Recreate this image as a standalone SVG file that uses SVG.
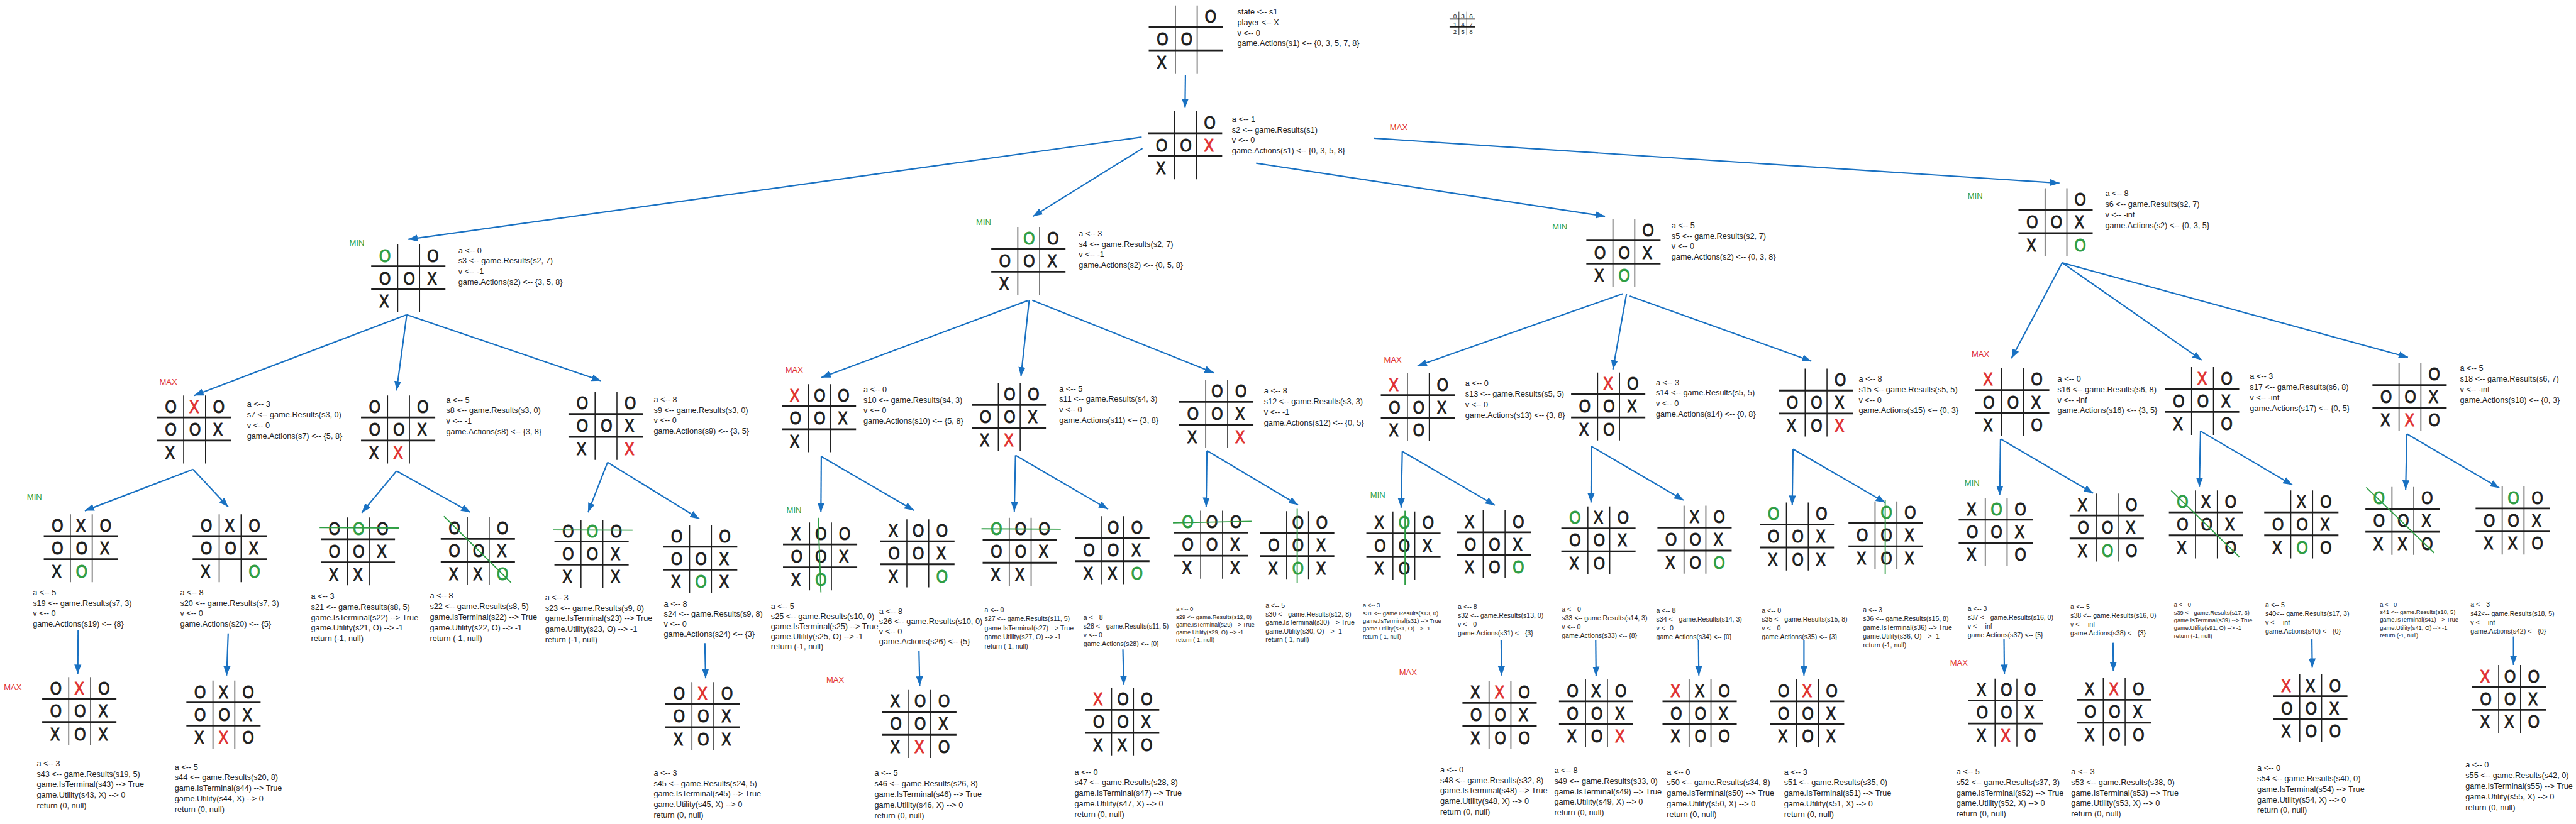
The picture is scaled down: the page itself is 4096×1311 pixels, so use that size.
<svg xmlns="http://www.w3.org/2000/svg" width="4096" height="1311" viewBox="0 0 4096 1311">
<defs>
<style>
.k{font-family:"Liberation Sans",Arial,sans-serif;font-size:46px;fill:#1e1e1e;stroke:#1e1e1e;stroke-width:1.8px;stroke-linejoin:round}
.k .r{fill:#e03131;stroke:#e03131}
.k .g{fill:#2f9e44;stroke:#2f9e44}
.t{font-family:"Liberation Sans",Arial,sans-serif;font-size:20.5px;fill:#1e1e1e}
.t2{font-size:17px}
.t3{font-size:15px}
.lx{font-family:"Liberation Sans",Arial,sans-serif;font-size:21px;fill:#e03131}
.ln{font-family:"Liberation Sans",Arial,sans-serif;font-size:21px;fill:#2f9e44}
.st{stroke:#2f9e44;stroke-width:3;fill:none}
</style>
<marker id="ah" markerWidth="26" markerHeight="20" refX="24" refY="10" orient="auto" markerUnits="userSpaceOnUse"><path d="M0 1 L24 10 L0 19 Z" fill="#1971c2"/></marker>
<g id="G"><path d="M0 56H190M0 115H190" stroke="#1e1e1e" stroke-width="4.5"/><path d="M68 0V174M124 0V174" stroke="#1e1e1e" stroke-width="2.5"/></g>
</defs>
<g transform="scale(0.62127)">
<rect width="6593" height="2111" fill="#ffffff"/>

<g id="connectors" fill="none" stroke="#1971c2" stroke-width="3.5" marker-end="url(#ah)">
<path d="M3034 193L3033 276"/>
<path d="M2922 351L1045 613"/>
<path d="M2924 380L2644 554"/>
<path d="M3215 418L4108 554"/>
<path d="M3516 354L5271 469"/>
<path d="M1041 806L497 1013"/>
<path d="M1041 806L1015 1000"/>
<path d="M1041 806L1538 975"/>
<path d="M2630 770L2102 967"/>
<path d="M2634 769L2613 964"/>
<path d="M2642 769L3107 955"/>
<path d="M4154 752L3628 937"/>
<path d="M4163 752L4128 946"/>
<path d="M4171 758L4636 925"/>
<path d="M5278 673L5148 918"/>
<path d="M5278 673L5635 922"/>
<path d="M5278 673L6163 915"/>
<path d="M494 1202L217 1308"/>
<path d="M494 1202L584 1298"/>
<path d="M1015 1206L926 1313"/>
<path d="M1015 1206L1204 1312"/>
<path d="M1555 1184L1505 1312"/>
<path d="M1555 1184L1790 1329"/>
<path d="M2102 1169L2101 1312"/>
<path d="M2102 1169L2339 1307"/>
<path d="M2599 1166L2596 1310"/>
<path d="M2599 1166L2836 1304"/>
<path d="M3089 1154L3087 1298"/>
<path d="M3089 1154L3322 1293"/>
<path d="M3589 1156L3586 1300"/>
<path d="M3589 1156L3826 1294"/>
<path d="M4073 1143L4072 1287"/>
<path d="M4073 1143L4309 1281"/>
<path d="M4589 1150L4587 1293"/>
<path d="M4589 1150L4825 1287"/>
<path d="M5120 1124L5118 1268"/>
<path d="M5120 1124L5357 1263"/>
<path d="M5632 1104L5629 1247"/>
<path d="M5632 1104L5867 1242"/>
<path d="M6160 1111L6157 1254"/>
<path d="M6160 1111L6397 1250"/>
<path d="M200 1614L199 1726"/>
<path d="M584 1622L580 1730"/>
<path d="M1804 1647L1806 1737"/>
<path d="M2352 1666L2354 1756"/>
<path d="M2874 1663L2876 1754"/>
<path d="M3842 1640L3843 1730"/>
<path d="M4084 1640L4085 1731"/>
<path d="M4347 1640L4348 1730"/>
<path d="M4617 1640L4617 1730"/>
<path d="M5129 1636L5130 1726"/>
<path d="M5408 1646L5409 1719"/>
<path d="M5917 1636L5918 1710"/>
<path d="M6433 1630L6433 1703"/>
</g>

<g id="levels">
<text class="lx" x="3557" y="333">MAX</text>
<text class="ln" x="894" y="629">MIN</text>
<text class="ln" x="2498" y="577">MIN</text>
<text class="ln" x="3973" y="587">MIN</text>
<text class="ln" x="5036" y="508">MIN</text>
<text class="lx" x="408" y="985">MAX</text>
<text class="lx" x="2010" y="955">MAX</text>
<text class="lx" x="3542" y="929">MAX</text>
<text class="lx" x="5046" y="914">MAX</text>
<text class="ln" x="69" y="1280">MIN</text>
<text class="ln" x="2013" y="1314">MIN</text>
<text class="ln" x="3507" y="1275">MIN</text>
<text class="ln" x="5028" y="1244">MIN</text>
<text class="lx" x="10" y="1767">MAX</text>
<text class="lx" x="2115" y="1748">MAX</text>
<text class="lx" x="3581" y="1729">MAX</text>
<text class="lx" x="4991" y="1705">MAX</text>
</g>

<g id="legend"><path d="M3710 49H3776M3710 69H3776" stroke="#1e1e1e" stroke-width="3"/><path d="M3734 30V90M3754 30V90" stroke="#1e1e1e" stroke-width="1.5"/><text class="t" style="font-size:16px" x="3719.5 3739.5 3760.5" y="47">036</text><text class="t" style="font-size:16px" x="3719.5 3739.5 3760.5" y="67">147</text><text class="t" style="font-size:16px" x="3719.5 3739.5 3760.5" y="87">258</text></g>

<g id="s1"><g transform="translate(2940 14)"><use href="#G"/><g transform="scale(.82 1)"><text class="k" x="24.9 100.5 174.9" y="44.5">&#160;&#160;O</text><text class="k" x="24.9 100.5 174.9" y="102.5">OO</text><text class="k" x="24.9 100.5 174.9" y="161.5">X</text></g></g><text class="t" y="37"><tspan x="3167">state &lt;-- s1</tspan><tspan x="3167" dy="27">player &lt;-- X</tspan><tspan x="3167" dy="27">v &lt;-- 0</tspan><tspan x="3167" dy="27">game.Actions(s1)  &lt;-- {0, 3, 5, 7, 8}</tspan></text></g>

<g id="s2"><g transform="translate(2938 285)"><use href="#G"/><g transform="scale(.82 1)"><text class="k" x="24.9 100.5 174.9" y="44.5">&#160;&#160;O</text><text class="k" x="24.9 100.5 174.9" y="102.5">OO<tspan class="r">X</tspan></text><text class="k" x="24.9 100.5 174.9" y="161.5">X</text></g></g><text class="t" y="312"><tspan x="3153">a &lt;-- 1</tspan><tspan x="3153" dy="27">s2 &lt;-- game.Results(s1)</tspan><tspan x="3153" dy="27">v &lt;-- 0</tspan><tspan x="3153" dy="27">game.Actions(s1)  &lt;-- {0, 3, 5, 8}</tspan></text></g>

<g id="s3"><g transform="translate(950 626)"><use href="#G"/><g transform="scale(.82 1)"><text class="k" x="24.9 100.5 174.9" y="44.5"><tspan class="g">O</tspan>&#160;O</text><text class="k" x="24.9 100.5 174.9" y="102.5">OOX</text><text class="k" x="24.9 100.5 174.9" y="161.5">X</text></g></g><text class="t" y="648"><tspan x="1173">a &lt;-- 0</tspan><tspan x="1173" dy="27">s3 &lt;-- game.Results(s2, 7)</tspan><tspan x="1173" dy="27">v &lt;-- -1</tspan><tspan x="1173" dy="27">game.Actions(s2)  &lt;-- {3, 5, 8}</tspan></text></g>

<g id="s4"><g transform="translate(2537 581)"><use href="#G"/><g transform="scale(.82 1)"><text class="k" x="24.9 100.5 174.9" y="44.5">&#160;<tspan class="g">O</tspan>O</text><text class="k" x="24.9 100.5 174.9" y="102.5">OOX</text><text class="k" x="24.9 100.5 174.9" y="161.5">X</text></g></g><text class="t" y="605"><tspan x="2761">a &lt;-- 3</tspan><tspan x="2761" dy="27">s4 &lt;-- game.Results(s2, 7)</tspan><tspan x="2761" dy="27">v &lt;-- -1</tspan><tspan x="2761" dy="27">game.Actions(s2)  &lt;-- {0, 5, 8}</tspan></text></g>

<g id="s5"><g transform="translate(4060 560)"><use href="#G"/><g transform="scale(.82 1)"><text class="k" x="24.9 100.5 174.9" y="44.5">&#160;&#160;O</text><text class="k" x="24.9 100.5 174.9" y="102.5">OOX</text><text class="k" x="24.9 100.5 174.9" y="161.5">X<tspan class="g">O</tspan></text></g></g><text class="t" y="584"><tspan x="4278">a &lt;-- 5</tspan><tspan x="4278" dy="27">s5 &lt;-- game.Results(s2, 7)</tspan><tspan x="4278" dy="27">v &lt;-- 0</tspan><tspan x="4278" dy="27">game.Actions(s2)  &lt;-- {0, 3, 8}</tspan></text></g>

<g id="s6"><g transform="translate(5166 482)"><use href="#G"/><g transform="scale(.82 1)"><text class="k" x="24.9 100.5 174.9" y="44.5">&#160;&#160;O</text><text class="k" x="24.9 100.5 174.9" y="102.5">OOX</text><text class="k" x="24.9 100.5 174.9" y="161.5">X&#160;<tspan class="g">O</tspan></text></g></g><text class="t" y="503"><tspan x="5388">a &lt;-- 8</tspan><tspan x="5388" dy="27">s6 &lt;-- game.Results(s2, 7)</tspan><tspan x="5388" dy="27">v &lt;-- -inf</tspan><tspan x="5388" dy="27">game.Actions(s2)  &lt;-- {0, 3, 5}</tspan></text></g>

<g id="s7"><g transform="translate(402 1013)"><use href="#G"/><g transform="scale(.82 1)"><text class="k" x="24.9 100.5 174.9" y="44.5">O<tspan class="r">X</tspan>O</text><text class="k" x="24.9 100.5 174.9" y="102.5">OOX</text><text class="k" x="24.9 100.5 174.9" y="161.5">X</text></g></g><text class="t" y="1042"><tspan x="632">a &lt;-- 3</tspan><tspan x="632" dy="27">s7 &lt;-- game.Results(s3, 0)</tspan><tspan x="632" dy="27">v &lt;-- 0</tspan><tspan x="632" dy="27">game.Actions(s7)  &lt;-- {5, 8}</tspan></text></g>

<g id="s8"><g transform="translate(924 1013)"><use href="#G"/><g transform="scale(.82 1)"><text class="k" x="24.9 100.5 174.9" y="44.5">O&#160;O</text><text class="k" x="24.9 100.5 174.9" y="102.5">OOX</text><text class="k" x="24.9 100.5 174.9" y="161.5">X<tspan class="r">X</tspan></text></g></g><text class="t" y="1031"><tspan x="1142">a &lt;-- 5</tspan><tspan x="1142" dy="27">s8 &lt;-- game.Results(s3, 0)</tspan><tspan x="1142" dy="27">v &lt;-- -1</tspan><tspan x="1142" dy="27">game.Actions(s8)  &lt;-- {3, 8}</tspan></text></g>

<g id="s9"><g transform="translate(1455 1004)"><use href="#G"/><g transform="scale(.82 1)"><text class="k" x="24.9 100.5 174.9" y="44.5">O&#160;O</text><text class="k" x="24.9 100.5 174.9" y="102.5">OOX</text><text class="k" x="24.9 100.5 174.9" y="161.5">X&#160;<tspan class="r">X</tspan></text></g></g><text class="t" y="1030"><tspan x="1673">a &lt;-- 8</tspan><tspan x="1673" dy="27">s9 &lt;-- game.Results(s3, 0)</tspan><tspan x="1673" dy="27">v &lt;-- 0</tspan><tspan x="1673" dy="27">game.Actions(s9)  &lt;-- {3, 5}</tspan></text></g>

<g id="s10"><g transform="translate(2001 984)"><use href="#G"/><g transform="scale(.82 1)"><text class="k" x="24.9 100.5 174.9" y="44.5"><tspan class="r">X</tspan>OO</text><text class="k" x="24.9 100.5 174.9" y="102.5">OOX</text><text class="k" x="24.9 100.5 174.9" y="161.5">X</text></g></g><text class="t" y="1004"><tspan x="2210">a &lt;-- 0</tspan><tspan x="2210" dy="27">s10 &lt;-- game.Results(s4, 3)</tspan><tspan x="2210" dy="27">v &lt;-- 0</tspan><tspan x="2210" dy="27">game.Actions(s10)  &lt;-- {5, 8}</tspan></text></g>

<g id="s11"><g transform="translate(2487 981)"><use href="#G"/><g transform="scale(.82 1)"><text class="k" x="24.9 100.5 174.9" y="44.5">&#160;OO</text><text class="k" x="24.9 100.5 174.9" y="102.5">OOX</text><text class="k" x="24.9 100.5 174.9" y="161.5">X<tspan class="r">X</tspan></text></g></g><text class="t" y="1002"><tspan x="2711">a &lt;-- 5</tspan><tspan x="2711" dy="27">s11 &lt;-- game.Results(s4, 3)</tspan><tspan x="2711" dy="27">v &lt;-- 0</tspan><tspan x="2711" dy="27">game.Actions(s11)  &lt;-- {3, 8}</tspan></text></g>

<g id="s12"><g transform="translate(3018 973)"><use href="#G"/><g transform="scale(.82 1)"><text class="k" x="24.9 100.5 174.9" y="44.5">&#160;OO</text><text class="k" x="24.9 100.5 174.9" y="102.5">OOX</text><text class="k" x="24.9 100.5 174.9" y="161.5">X&#160;<tspan class="r">X</tspan></text></g></g><text class="t" y="1008"><tspan x="3235">a &lt;-- 8</tspan><tspan x="3235" dy="27">s12 &lt;-- game.Results(s3, 3)</tspan><tspan x="3235" dy="27">v &lt;-- -1</tspan><tspan x="3235" dy="27">game.Actions(s12)  &lt;-- {0, 5}</tspan></text></g>

<g id="s13"><g transform="translate(3534 956)"><use href="#G"/><g transform="scale(.82 1)"><text class="k" x="24.9 100.5 174.9" y="44.5"><tspan class="r">X</tspan>&#160;O</text><text class="k" x="24.9 100.5 174.9" y="102.5">OOX</text><text class="k" x="24.9 100.5 174.9" y="161.5">XO</text></g></g><text class="t" y="989"><tspan x="3750">a &lt;-- 0</tspan><tspan x="3750" dy="27">s13 &lt;-- game.Results(s5, 5)</tspan><tspan x="3750" dy="27">v &lt;-- 0</tspan><tspan x="3750" dy="27">game.Actions(s13)  &lt;-- {3, 8}</tspan></text></g>

<g id="s14"><g transform="translate(4021 954)"><use href="#G"/><g transform="scale(.82 1)"><text class="k" x="24.9 100.5 174.9" y="44.5">&#160;<tspan class="r">X</tspan>O</text><text class="k" x="24.9 100.5 174.9" y="102.5">OOX</text><text class="k" x="24.9 100.5 174.9" y="161.5">XO</text></g></g><text class="t" y="986"><tspan x="4238">a &lt;-- 3</tspan><tspan x="4238" dy="27">s14 &lt;-- game.Results(s5, 5)</tspan><tspan x="4238" dy="27">v &lt;-- 0</tspan><tspan x="4238" dy="27">game.Actions(s14)  &lt;-- {0, 8}</tspan></text></g>

<g id="s15"><g transform="translate(4552 944)"><use href="#G"/><g transform="scale(.82 1)"><text class="k" x="24.9 100.5 174.9" y="44.5">&#160;&#160;O</text><text class="k" x="24.9 100.5 174.9" y="102.5">OOX</text><text class="k" x="24.9 100.5 174.9" y="161.5">XO<tspan class="r">X</tspan></text></g></g><text class="t" y="977"><tspan x="4757">a &lt;-- 8</tspan><tspan x="4757" dy="27">s15 &lt;-- game.Results(s5, 5)</tspan><tspan x="4757" dy="27">v &lt;-- 0</tspan><tspan x="4757" dy="27">game.Actions(s15)  &lt;-- {0, 3}</tspan></text></g>

<g id="s16"><g transform="translate(5055 943)"><use href="#G"/><g transform="scale(.82 1)"><text class="k" x="24.9 100.5 174.9" y="44.5"><tspan class="r">X</tspan>&#160;O</text><text class="k" x="24.9 100.5 174.9" y="102.5">OOX</text><text class="k" x="24.9 100.5 174.9" y="161.5">X&#160;O</text></g></g><text class="t" y="977"><tspan x="5266">a &lt;-- 0</tspan><tspan x="5266" dy="27">s16 &lt;-- game.Results(s6, 8)</tspan><tspan x="5266" dy="27">v &lt;-- -inf</tspan><tspan x="5266" dy="27">game.Actions(s16)  &lt;-- {3, 5}</tspan></text></g>

<g id="s17"><g transform="translate(5541 940)"><use href="#G"/><g transform="scale(.82 1)"><text class="k" x="24.9 100.5 174.9" y="44.5">&#160;<tspan class="r">X</tspan>O</text><text class="k" x="24.9 100.5 174.9" y="102.5">OOX</text><text class="k" x="24.9 100.5 174.9" y="161.5">X&#160;O</text></g></g><text class="t" y="971"><tspan x="5758">a &lt;-- 3</tspan><tspan x="5758" dy="27">s17 &lt;-- game.Results(s6, 8)</tspan><tspan x="5758" dy="27">v &lt;-- -inf</tspan><tspan x="5758" dy="27">game.Actions(s17)  &lt;-- {0, 5}</tspan></text></g>

<g id="s18"><g transform="translate(6072 930)"><use href="#G"/><g transform="scale(.82 1)"><text class="k" x="24.9 100.5 174.9" y="44.5">&#160;&#160;O</text><text class="k" x="24.9 100.5 174.9" y="102.5">OOX</text><text class="k" x="24.9 100.5 174.9" y="161.5">X<tspan class="r">X</tspan>O</text></g></g><text class="t" y="950"><tspan x="6296">a &lt;-- 5</tspan><tspan x="6296" dy="27">s18 &lt;-- game.Results(s6, 7)</tspan><tspan x="6296" dy="27">v &lt;-- -inf</tspan><tspan x="6296" dy="27">game.Actions(s18)  &lt;-- {0, 3}</tspan></text></g>

<g id="s19"><g transform="translate(112 1317)"><use href="#G"/><g transform="scale(.82 1)"><text class="k" x="24.9 100.5 174.9" y="44.5">OXO</text><text class="k" x="24.9 100.5 174.9" y="102.5">OOX</text><text class="k" x="24.9 100.5 174.9" y="161.5">X<tspan class="g">O</tspan></text></g></g><text class="t" y="1524"><tspan x="84">a &lt;-- 5</tspan><tspan x="84" dy="27">s19 &lt;-- game.Results(s7, 3)</tspan><tspan x="84" dy="27">v &lt;-- 0</tspan><tspan x="84" dy="27">game.Actions(s19)  &lt;-- {8}</tspan></text></g>

<g id="s20"><g transform="translate(493 1317)"><use href="#G"/><g transform="scale(.82 1)"><text class="k" x="24.9 100.5 174.9" y="44.5">OXO</text><text class="k" x="24.9 100.5 174.9" y="102.5">OOX</text><text class="k" x="24.9 100.5 174.9" y="161.5">X&#160;<tspan class="g">O</tspan></text></g></g><text class="t" y="1524"><tspan x="461">a &lt;-- 8</tspan><tspan x="461" dy="27">s20 &lt;-- game.Results(s7, 3)</tspan><tspan x="461" dy="27">v &lt;-- 0</tspan><tspan x="461" dy="27">game.Actions(s20)  &lt;-- {5}</tspan></text></g>

<g id="s21"><g transform="translate(821 1325)"><use href="#G"/><g transform="scale(.82 1)"><text class="k" x="24.9 100.5 174.9" y="44.5">O<tspan class="g">O</tspan>O</text><text class="k" x="24.9 100.5 174.9" y="102.5">OOX</text><text class="k" x="24.9 100.5 174.9" y="161.5">XX</text></g><path class="st" d="M-3 26L200 27"/></g><text class="t" y="1534"><tspan x="796">a &lt;-- 3</tspan><tspan x="796" dy="27">s21 &lt;-- game.Results(s8, 5)</tspan><tspan x="796" dy="27">game.IsTerminal(s22) --&gt; True</tspan><tspan x="796" dy="27">game.Utility(s21, O) --&gt; -1</tspan><tspan x="796" dy="27">return (-1, null)</tspan></text></g>

<g id="s22"><g transform="translate(1128 1324)"><use href="#G"/><g transform="scale(.82 1)"><text class="k" x="24.9 100.5 174.9" y="44.5">O&#160;O</text><text class="k" x="24.9 100.5 174.9" y="102.5">OOX</text><text class="k" x="24.9 100.5 174.9" y="161.5">XX<tspan class="g">O</tspan></text></g><path class="st" d="M8 -2L180 168"/></g><text class="t" y="1533"><tspan x="1100">a &lt;-- 8</tspan><tspan x="1100" dy="27">s22 &lt;-- game.Results(s8, 5)</tspan><tspan x="1100" dy="27">game.IsTerminal(s22) --&gt; True</tspan><tspan x="1100" dy="27">game.Utility(s22, O) --&gt; -1</tspan><tspan x="1100" dy="27">return (-1, null)</tspan></text></g>

<g id="s23"><g transform="translate(1419 1331)"><use href="#G"/><g transform="scale(.82 1)"><text class="k" x="24.9 100.5 174.9" y="44.5">O<tspan class="g">O</tspan>O</text><text class="k" x="24.9 100.5 174.9" y="102.5">OOX</text><text class="k" x="24.9 100.5 174.9" y="161.5">X&#160;X</text></g><path class="st" d="M-3 26L200 27"/></g><text class="t" y="1537"><tspan x="1395">a &lt;-- 3</tspan><tspan x="1395" dy="27">s23 &lt;-- game.Results(s9, 8)</tspan><tspan x="1395" dy="27">game.IsTerminal(s23) --&gt; True</tspan><tspan x="1395" dy="27">game.Utility(s23, O) --&gt; -1</tspan><tspan x="1395" dy="27">return (-1, null)</tspan></text></g>

<g id="s24"><g transform="translate(1697 1344)"><use href="#G"/><g transform="scale(.82 1)"><text class="k" x="24.9 100.5 174.9" y="44.5">O&#160;O</text><text class="k" x="24.9 100.5 174.9" y="102.5">OOX</text><text class="k" x="24.9 100.5 174.9" y="161.5">X<tspan class="g">O</tspan>X</text></g></g><text class="t" y="1554"><tspan x="1699">a &lt;-- 8</tspan><tspan x="1699" dy="25.6">s24 &lt;-- game.Results(s9, 8)</tspan><tspan x="1699" dy="25.6">v &lt;-- 0</tspan><tspan x="1699" dy="25.6">game.Actions(s24) &lt;-- {3}</tspan></text></g>

<g id="s25"><g transform="translate(2004 1338)"><use href="#G"/><g transform="scale(.82 1)"><text class="k" x="24.9 100.5 174.9" y="44.5">XOO</text><text class="k" x="24.9 100.5 174.9" y="102.5">OOX</text><text class="k" x="24.9 100.5 174.9" y="161.5">X<tspan class="g">O</tspan></text></g><path class="st" d="M90 -12L97 179"/></g><text class="t" y="1559"><tspan x="1973">a &lt;-- 5</tspan><tspan x="1973" dy="26">s25 &lt;-- game.Results(s10, 0)</tspan><tspan x="1973" dy="26">game.IsTerminal(s25) --&gt; True</tspan><tspan x="1973" dy="26">game.Utility(s25, O) --&gt; -1</tspan><tspan x="1973" dy="26">return (-1, null)</tspan></text></g>

<g id="s26"><g transform="translate(2253 1330)"><use href="#G"/><g transform="scale(.82 1)"><text class="k" x="24.9 100.5 174.9" y="44.5">XOO</text><text class="k" x="24.9 100.5 174.9" y="102.5">OOX</text><text class="k" x="24.9 100.5 174.9" y="161.5">X&#160;<tspan class="g">O</tspan></text></g></g><text class="t" y="1573"><tspan x="2250">a &lt;-- 8</tspan><tspan x="2250" dy="25.6">s26 &lt;-- game.Results(s10, 0)</tspan><tspan x="2250" dy="25.6">v &lt;-- 0</tspan><tspan x="2250" dy="25.6">game.Actions(s26) &lt;-- {5}</tspan></text></g>

<g id="s27"><g transform="translate(2515 1326)"><use href="#G"/><g transform="scale(.82 1)"><text class="k" x="24.9 100.5 174.9" y="44.5"><tspan class="g">O</tspan>OO</text><text class="k" x="24.9 100.5 174.9" y="102.5">OOX</text><text class="k" x="24.9 100.5 174.9" y="161.5">XX</text></g><path class="st" d="M-3 28L200 29"/></g><text class="t t2" y="1567"><tspan x="2520">a &lt;-- 0</tspan><tspan x="2520" dy="23.5">s27 &lt;-- game.Results(s11, 5)</tspan><tspan x="2520" dy="23.5">game.IsTerminal(s27) --&gt; True</tspan><tspan x="2520" dy="23.5">game.Utility(s27, O) --&gt; -1</tspan><tspan x="2520" dy="23.5">return (-1, null)</tspan></text></g>

<g id="s28"><g transform="translate(2752 1322)"><use href="#G"/><g transform="scale(.82 1)"><text class="k" x="24.9 100.5 174.9" y="44.5">&#160;OO</text><text class="k" x="24.9 100.5 174.9" y="102.5">OOX</text><text class="k" x="24.9 100.5 174.9" y="161.5">XX<tspan class="g">O</tspan></text></g></g><text class="t t2" y="1587"><tspan x="2773">a &lt;-- 8</tspan><tspan x="2773" dy="22.7">s28 &lt;-- game.Results(s11, 5)</tspan><tspan x="2773" dy="22.7">v &lt;-- 0</tspan><tspan x="2773" dy="22.7">game.Actions(s28) &lt;-- {0}</tspan></text></g>

<g id="s29"><g transform="translate(3005 1308)"><use href="#G"/><g transform="scale(.82 1)"><text class="k" x="24.9 100.5 174.9" y="44.5"><tspan class="g">O</tspan>OO</text><text class="k" x="24.9 100.5 174.9" y="102.5">OOX</text><text class="k" x="24.9 100.5 174.9" y="161.5">X&#160;X</text></g><path class="st" d="M-3 31L198 27"/></g><text class="t t3" y="1565"><tspan x="3010">a &lt;-- 0</tspan><tspan x="3010" dy="19.8">s29 &lt;-- game.Results(s12, 8)</tspan><tspan x="3010" dy="19.8">game.IsTerminal(s29) --&gt; True</tspan><tspan x="3010" dy="19.8">game.Utility(s29, O) --&gt; -1</tspan><tspan x="3010" dy="19.8">return (-1, null)</tspan></text></g>

<g id="s30"><g transform="translate(3225 1309)"><use href="#G"/><g transform="scale(.82 1)"><text class="k" x="24.9 100.5 174.9" y="44.5">&#160;OO</text><text class="k" x="24.9 100.5 174.9" y="102.5">OOX</text><text class="k" x="24.9 100.5 174.9" y="161.5">X<tspan class="g">O</tspan>X</text></g><path class="st" d="M95 -6L95 184"/></g><text class="t t2" y="1557"><tspan x="3239">a &lt;-- 5</tspan><tspan x="3239" dy="21.6">s30 &lt;-- game.Results(s12, 8)</tspan><tspan x="3239" dy="21.6">game.IsTerminal(s30) --&gt; True</tspan><tspan x="3239" dy="21.6">game.Utility(s30, O) --&gt; -1</tspan><tspan x="3239" dy="21.6">return (-1, null)</tspan></text></g>

<g id="s31"><g transform="translate(3497 1310)"><use href="#G"/><g transform="scale(.82 1)"><text class="k" x="24.9 100.5 174.9" y="44.5">X<tspan class="g">O</tspan>O</text><text class="k" x="24.9 100.5 174.9" y="102.5">OOX</text><text class="k" x="24.9 100.5 174.9" y="161.5">XO</text></g><path class="st" d="M99 -2L99 188"/></g><text class="t t3" y="1555"><tspan x="3488">a &lt;-- 3</tspan><tspan x="3488" dy="20">s31 &lt;-- game.Results(s13, 0)</tspan><tspan x="3488" dy="20">game.IsTerminal(s31) --&gt; True</tspan><tspan x="3488" dy="20">game.Utility(s31, O) --&gt; -1</tspan><tspan x="3488" dy="20">return (-1, null)</tspan></text></g>

<g id="s32"><g transform="translate(3728 1307)"><use href="#G"/><g transform="scale(.82 1)"><text class="k" x="24.9 100.5 174.9" y="44.5">X&#160;O</text><text class="k" x="24.9 100.5 174.9" y="102.5">OOX</text><text class="k" x="24.9 100.5 174.9" y="161.5">XO<tspan class="g">O</tspan></text></g></g><text class="t t2" y="1559"><tspan x="3731">a &lt;-- 8</tspan><tspan x="3731" dy="22.7">s32 &lt;-- game.Results(s13, 0)</tspan><tspan x="3731" dy="22.7">v &lt;-- 0</tspan><tspan x="3731" dy="22.7">game.Actions(s31) &lt;-- {3}</tspan></text></g>

<g id="s33"><g transform="translate(3996 1297)"><use href="#G"/><g transform="scale(.82 1)"><text class="k" x="24.9 100.5 174.9" y="44.5"><tspan class="g">O</tspan>XO</text><text class="k" x="24.9 100.5 174.9" y="102.5">OOX</text><text class="k" x="24.9 100.5 174.9" y="161.5">XO</text></g></g><text class="t t2" y="1566"><tspan x="3997">a &lt;-- 0</tspan><tspan x="3997" dy="22.5">s33 &lt;-- game.Results(s14, 3)</tspan><tspan x="3997" dy="22.5">v &lt;-- 0</tspan><tspan x="3997" dy="22.5">game.Actions(s33) &lt;-- {8}</tspan></text></g>

<g id="s34"><g transform="translate(4242 1295)"><use href="#G"/><g transform="scale(.82 1)"><text class="k" x="24.9 100.5 174.9" y="44.5">&#160;XO</text><text class="k" x="24.9 100.5 174.9" y="102.5">OOX</text><text class="k" x="24.9 100.5 174.9" y="161.5">XO<tspan class="g">O</tspan></text></g></g><text class="t t2" y="1570"><tspan x="4239">a &lt;-- 8</tspan><tspan x="4239" dy="22.5">s34 &lt;-- game.Results(s14, 3)</tspan><tspan x="4239" dy="22.5">v &lt;--0</tspan><tspan x="4239" dy="22.5">game.Actions(s34) &lt;-- {0}</tspan></text></g>

<g id="s35"><g transform="translate(4504 1287)"><use href="#G"/><g transform="scale(.82 1)"><text class="k" x="24.9 100.5 174.9" y="44.5"><tspan class="g">O</tspan>&#160;O</text><text class="k" x="24.9 100.5 174.9" y="102.5">OOX</text><text class="k" x="24.9 100.5 174.9" y="161.5">XOX</text></g></g><text class="t t2" y="1570"><tspan x="4509">a &lt;-- 0</tspan><tspan x="4509" dy="22.5">s35 &lt;-- game.Results(s15, 8)</tspan><tspan x="4509" dy="22.5">v &lt;-- 0</tspan><tspan x="4509" dy="22.5">game.Actions(s35) &lt;-- {3}</tspan></text></g>

<g id="s36"><g transform="translate(4731 1284)"><use href="#G"/><g transform="scale(.82 1)"><text class="k" x="24.9 100.5 174.9" y="44.5">&#160;<tspan class="g">O</tspan>O</text><text class="k" x="24.9 100.5 174.9" y="102.5">OOX</text><text class="k" x="24.9 100.5 174.9" y="161.5">XOX</text></g><path class="st" d="M94 -4L94 186"/></g><text class="t t2" y="1567"><tspan x="4768">a &lt;-- 3</tspan><tspan x="4768" dy="22.7">s36 &lt;-- game.Results(s15, 8)</tspan><tspan x="4768" dy="22.7">game.IsTerminal(s36) --&gt; True</tspan><tspan x="4768" dy="22.7">game.Utility(s36, O) --&gt; -1</tspan><tspan x="4768" dy="22.7">return (-1, null)</tspan></text></g>

<g id="s37"><g transform="translate(5013 1275)"><use href="#G"/><g transform="scale(.82 1)"><text class="k" x="24.9 100.5 174.9" y="44.5">X<tspan class="g">O</tspan>O</text><text class="k" x="24.9 100.5 174.9" y="102.5">OOX</text><text class="k" x="24.9 100.5 174.9" y="161.5">X&#160;O</text></g></g><text class="t t2" y="1564"><tspan x="5036">a &lt;-- 3</tspan><tspan x="5036" dy="22.5">s37 &lt;-- game.Results(s16, 0)</tspan><tspan x="5036" dy="22.5">v &lt;-- -inf</tspan><tspan x="5036" dy="22.5">game.Actions(s37) &lt;-- {5}</tspan></text></g>

<g id="s38"><g transform="translate(5297 1264)"><use href="#G"/><g transform="scale(.82 1)"><text class="k" x="24.9 100.5 174.9" y="44.5">X&#160;O</text><text class="k" x="24.9 100.5 174.9" y="102.5">OOX</text><text class="k" x="24.9 100.5 174.9" y="161.5">X<tspan class="g">O</tspan>O</text></g></g><text class="t t2" y="1559"><tspan x="5299">a &lt;-- 5</tspan><tspan x="5299" dy="22.7">s38 &lt;-- game.Results(s16, 0)</tspan><tspan x="5299" dy="22.7">v &lt;-- -inf</tspan><tspan x="5299" dy="22.7">game.Actions(s38) &lt;-- {3}</tspan></text></g>

<g id="s39"><g transform="translate(5551 1256)"><use href="#G"/><g transform="scale(.82 1)"><text class="k" x="24.9 100.5 174.9" y="44.5"><tspan class="g">O</tspan>XO</text><text class="k" x="24.9 100.5 174.9" y="102.5">OOX</text><text class="k" x="24.9 100.5 174.9" y="161.5">X&#160;O</text></g><path class="st" d="M6 0L180 170"/></g><text class="t t3" y="1554"><tspan x="5564">a &lt;-- 0</tspan><tspan x="5564" dy="19.8">s39 &lt;-- game.Results(s17, 3)</tspan><tspan x="5564" dy="19.8">game.IsTerminal(s39) --&gt; True</tspan><tspan x="5564" dy="19.8">game.Utility(s91, O) --&gt; -1</tspan><tspan x="5564" dy="19.8">return (-1, null)</tspan></text></g>

<g id="s40"><g transform="translate(5795 1256)"><use href="#G"/><g transform="scale(.82 1)"><text class="k" x="24.9 100.5 174.9" y="44.5">&#160;XO</text><text class="k" x="24.9 100.5 174.9" y="102.5">OOX</text><text class="k" x="24.9 100.5 174.9" y="161.5">X<tspan class="g">O</tspan>O</text></g></g><text class="t t2" y="1555"><tspan x="5798">a &lt;-- 5</tspan><tspan x="5798" dy="22.7">s40&lt;-- game.Results(s17, 3)</tspan><tspan x="5798" dy="22.7">v &lt;-- -inf</tspan><tspan x="5798" dy="22.7">game.Actions(s40) &lt;-- {0}</tspan></text></g>

<g id="s41"><g transform="translate(6054 1247)"><use href="#G"/><g transform="scale(.82 1)"><text class="k" x="24.9 100.5 174.9" y="44.5"><tspan class="g">O</tspan>&#160;O</text><text class="k" x="24.9 100.5 174.9" y="102.5">OOX</text><text class="k" x="24.9 100.5 174.9" y="161.5">XXO</text></g><path class="st" d="M2 1L176 169"/></g><text class="t t3" y="1553"><tspan x="6091">a &lt;-- 0</tspan><tspan x="6091" dy="19.8">s41 &lt;-- game.Results(s18, 5)</tspan><tspan x="6091" dy="19.8">game.IsTerminal(s41) --&gt; True</tspan><tspan x="6091" dy="19.8">game.Utility(s41, O) --&gt; -1</tspan><tspan x="6091" dy="19.8">return (-1, null)</tspan></text></g>

<g id="s42"><g transform="translate(6336 1246)"><use href="#G"/><g transform="scale(.82 1)"><text class="k" x="24.9 100.5 174.9" y="44.5">&#160;<tspan class="g">O</tspan>O</text><text class="k" x="24.9 100.5 174.9" y="102.5">OOX</text><text class="k" x="24.9 100.5 174.9" y="161.5">XXO</text></g></g><text class="t t2" y="1554"><tspan x="6323">a &lt;-- 3</tspan><tspan x="6323" dy="22.7">s42&lt;-- game.Results(s18, 5)</tspan><tspan x="6323" dy="22.7">v &lt;-- -inf</tspan><tspan x="6323" dy="22.7">game.Actions(s42) &lt;-- {0}</tspan></text></g>

<g id="s43"><g transform="translate(108 1734)"><use href="#G"/><g transform="scale(.82 1)"><text class="k" x="24.9 100.5 174.9" y="44.5">O<tspan class="r">X</tspan>O</text><text class="k" x="24.9 100.5 174.9" y="102.5">OOX</text><text class="k" x="24.9 100.5 174.9" y="161.5">XOX</text></g></g><text class="t" y="1962"><tspan x="94">a &lt;-- 3</tspan><tspan x="94" dy="27">s43 &lt;-- game.Results(s19, 5)</tspan><tspan x="94" dy="27">game.IsTerminal(s43) --&gt; True</tspan><tspan x="94" dy="27">game.Utility(s43, X) --&gt; 0</tspan><tspan x="94" dy="27">return (0, null)</tspan></text></g>

<g id="s44"><g transform="translate(477 1743)"><use href="#G"/><g transform="scale(.82 1)"><text class="k" x="24.9 100.5 174.9" y="44.5">OXO</text><text class="k" x="24.9 100.5 174.9" y="102.5">OOX</text><text class="k" x="24.9 100.5 174.9" y="161.5">X<tspan class="r">X</tspan>O</text></g></g><text class="t" y="1971"><tspan x="447">a &lt;-- 5</tspan><tspan x="447" dy="27">s44 &lt;-- game.Results(s20, 8)</tspan><tspan x="447" dy="27">game.IsTerminal(s44) --&gt; True</tspan><tspan x="447" dy="27">game.Utility(s44, X) --&gt; 0</tspan><tspan x="447" dy="27">return (0, null)</tspan></text></g>

<g id="s45"><g transform="translate(1703 1747)"><use href="#G"/><g transform="scale(.82 1)"><text class="k" x="24.9 100.5 174.9" y="44.5">O<tspan class="r">X</tspan>O</text><text class="k" x="24.9 100.5 174.9" y="102.5">OOX</text><text class="k" x="24.9 100.5 174.9" y="161.5">XOX</text></g></g><text class="t" y="1986"><tspan x="1673">a &lt;-- 3</tspan><tspan x="1673" dy="27">s45 &lt;-- game.Results(s24, 5)</tspan><tspan x="1673" dy="27">game.IsTerminal(s45) --&gt; True</tspan><tspan x="1673" dy="27">game.Utility(s45, X) --&gt; 0</tspan><tspan x="1673" dy="27">return (0, null)</tspan></text></g>

<g id="s46"><g transform="translate(2258 1767)"><use href="#G"/><g transform="scale(.82 1)"><text class="k" x="24.9 100.5 174.9" y="44.5">XOO</text><text class="k" x="24.9 100.5 174.9" y="102.5">OOX</text><text class="k" x="24.9 100.5 174.9" y="161.5">X<tspan class="r">X</tspan>O</text></g></g><text class="t" y="1987"><tspan x="2238">a &lt;-- 5</tspan><tspan x="2238" dy="27">s46 &lt;-- game.Results(s26, 8)</tspan><tspan x="2238" dy="27">game.IsTerminal(s46) --&gt; True</tspan><tspan x="2238" dy="27">game.Utility(s46, X) --&gt; 0</tspan><tspan x="2238" dy="27">return (0, null)</tspan></text></g>

<g id="s47"><g transform="translate(2777 1762)"><use href="#G"/><g transform="scale(.82 1)"><text class="k" x="24.9 100.5 174.9" y="44.5"><tspan class="r">X</tspan>OO</text><text class="k" x="24.9 100.5 174.9" y="102.5">OOX</text><text class="k" x="24.9 100.5 174.9" y="161.5">XXO</text></g></g><text class="t" y="1984"><tspan x="2750">a &lt;-- 0</tspan><tspan x="2750" dy="27">s47 &lt;-- game.Results(s28, 8)</tspan><tspan x="2750" dy="27">game.IsTerminal(s47) --&gt; True</tspan><tspan x="2750" dy="27">game.Utility(s47, X) --&gt; 0</tspan><tspan x="2750" dy="27">return (0, null)</tspan></text></g>

<g id="s48"><g transform="translate(3743 1744)"><use href="#G"/><g transform="scale(.82 1)"><text class="k" x="24.9 100.5 174.9" y="44.5">X<tspan class="r">X</tspan>O</text><text class="k" x="24.9 100.5 174.9" y="102.5">OOX</text><text class="k" x="24.9 100.5 174.9" y="161.5">XOO</text></g></g><text class="t" y="1978"><tspan x="3686">a &lt;-- 0</tspan><tspan x="3686" dy="27">s48 &lt;-- game.Results(s32, 8)</tspan><tspan x="3686" dy="27">game.IsTerminal(s48) --&gt; True</tspan><tspan x="3686" dy="27">game.Utility(s48, X) --&gt; 0</tspan><tspan x="3686" dy="27">return (0, null)</tspan></text></g>

<g id="s49"><g transform="translate(3990 1740)"><use href="#G"/><g transform="scale(.82 1)"><text class="k" x="24.9 100.5 174.9" y="44.5">OXO</text><text class="k" x="24.9 100.5 174.9" y="102.5">OOX</text><text class="k" x="24.9 100.5 174.9" y="161.5">XO<tspan class="r">X</tspan></text></g></g><text class="t" y="1980"><tspan x="3978">a &lt;-- 8</tspan><tspan x="3978" dy="27">s49 &lt;-- game.Results(s33, 0)</tspan><tspan x="3978" dy="27">game.IsTerminal(s49) --&gt; True</tspan><tspan x="3978" dy="27">game.Utility(s49, X) --&gt; 0</tspan><tspan x="3978" dy="27">return (0, null)</tspan></text></g>

<g id="s50"><g transform="translate(4255 1740)"><use href="#G"/><g transform="scale(.82 1)"><text class="k" x="24.9 100.5 174.9" y="44.5"><tspan class="r">X</tspan>XO</text><text class="k" x="24.9 100.5 174.9" y="102.5">OOX</text><text class="k" x="24.9 100.5 174.9" y="161.5">XOO</text></g></g><text class="t" y="1984"><tspan x="4266">a &lt;-- 0</tspan><tspan x="4266" dy="27">s50 &lt;-- game.Results(s34, 8)</tspan><tspan x="4266" dy="27">game.IsTerminal(s50) --&gt; True</tspan><tspan x="4266" dy="27">game.Utility(s50, X) --&gt; 0</tspan><tspan x="4266" dy="27">return (0, null)</tspan></text></g>

<g id="s51"><g transform="translate(4530 1740)"><use href="#G"/><g transform="scale(.82 1)"><text class="k" x="24.9 100.5 174.9" y="44.5">O<tspan class="r">X</tspan>O</text><text class="k" x="24.9 100.5 174.9" y="102.5">OOX</text><text class="k" x="24.9 100.5 174.9" y="161.5">XOX</text></g></g><text class="t" y="1984"><tspan x="4566">a &lt;-- 3</tspan><tspan x="4566" dy="27">s51 &lt;-- game.Results(s35, 0)</tspan><tspan x="4566" dy="27">game.IsTerminal(s51) --&gt; True</tspan><tspan x="4566" dy="27">game.Utility(s51, X) --&gt; 0</tspan><tspan x="4566" dy="27">return (0, null)</tspan></text></g>

<g id="s52"><g transform="translate(5038 1738)"><use href="#G"/><g transform="scale(.82 1)"><text class="k" x="24.9 100.5 174.9" y="44.5">XOO</text><text class="k" x="24.9 100.5 174.9" y="102.5">OOX</text><text class="k" x="24.9 100.5 174.9" y="161.5">X<tspan class="r">X</tspan>O</text></g></g><text class="t" y="1983"><tspan x="5007">a &lt;-- 5</tspan><tspan x="5007" dy="27">s52 &lt;-- game.Results(s37, 3)</tspan><tspan x="5007" dy="27">game.IsTerminal(s52) --&gt; True</tspan><tspan x="5007" dy="27">game.Utility(s52, X) --&gt; 0</tspan><tspan x="5007" dy="27">return (0, null)</tspan></text></g>

<g id="s53"><g transform="translate(5315 1736)"><use href="#G"/><g transform="scale(.82 1)"><text class="k" x="24.9 100.5 174.9" y="44.5">X<tspan class="r">X</tspan>O</text><text class="k" x="24.9 100.5 174.9" y="102.5">OOX</text><text class="k" x="24.9 100.5 174.9" y="161.5">XOO</text></g></g><text class="t" y="1983"><tspan x="5301">a &lt;-- 3</tspan><tspan x="5301" dy="27">s53 &lt;-- game.Results(s38, 0)</tspan><tspan x="5301" dy="27">game.IsTerminal(s53) --&gt; True</tspan><tspan x="5301" dy="27">game.Utility(s53, X) --&gt; 0</tspan><tspan x="5301" dy="27">return (0, null)</tspan></text></g>

<g id="s54"><g transform="translate(5818 1727)"><use href="#G"/><g transform="scale(.82 1)"><text class="k" x="24.9 100.5 174.9" y="44.5"><tspan class="r">X</tspan>XO</text><text class="k" x="24.9 100.5 174.9" y="102.5">OOX</text><text class="k" x="24.9 100.5 174.9" y="161.5">XOO</text></g></g><text class="t" y="1974"><tspan x="5777">a &lt;-- 0</tspan><tspan x="5777" dy="27">s54 &lt;-- game.Results(s40, 0)</tspan><tspan x="5777" dy="27">game.IsTerminal(s54) --&gt; True</tspan><tspan x="5777" dy="27">game.Utility(s54, X) --&gt; 0</tspan><tspan x="5777" dy="27">return (0, null)</tspan></text></g>

<g id="s55"><g transform="translate(6327 1703)"><use href="#G"/><g transform="scale(.82 1)"><text class="k" x="24.9 100.5 174.9" y="44.5"><tspan class="r">X</tspan>OO</text><text class="k" x="24.9 100.5 174.9" y="102.5">OOX</text><text class="k" x="24.9 100.5 174.9" y="161.5">XXO</text></g></g><text class="t" y="1966"><tspan x="6310">a &lt;-- 0</tspan><tspan x="6310" dy="27">s55 &lt;-- game.Results(s42, 0)</tspan><tspan x="6310" dy="27">game.IsTerminal(s55) --&gt; True</tspan><tspan x="6310" dy="27">game.Utility(s55, X) --&gt; 0</tspan><tspan x="6310" dy="27">return (0, null)</tspan></text></g>
</g>
</svg>
